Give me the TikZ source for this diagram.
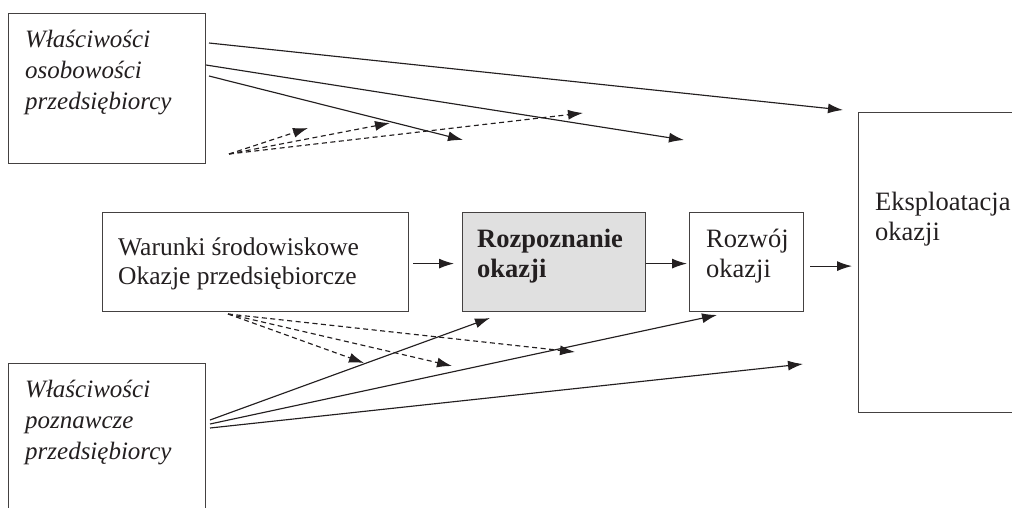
\documentclass[tikz,border=0pt]{standalone}
\usepackage{fontspec}
\setmainfont{Liberation Serif}
\usetikzlibrary{arrows.meta}
\definecolor{ink}{RGB}{35,31,32}
\definecolor{boxfill}{RGB}{224,224,224}
\begin{document}
\begin{tikzpicture}[x=1pt,y=-1pt,
  box/.style={draw=ink!85, line width=1.2pt, inner sep=0pt, anchor=north west},
  conn/.style={draw=ink, line width=1.15pt, -{Latex[length=15pt,width=10pt]}},
  dconn/.style={conn, dash pattern=on 5pt off 3.5pt},
  up/.style={font=\fontsize{26.5}{30}\selectfont, text=ink, inner sep=0pt, anchor=base west},
  it/.style={up, font=\fontsize{25}{31}\selectfont\itshape},
  bf/.style={up, font=\fontsize{26.5}{30}\selectfont\bfseries},
]
\useasboundingbox (0,0) rectangle (1012,507);
\clip (0,0) rectangle (1012,507);

% boxes
\node[box, minimum width=197pt, minimum height=150pt] (pers) at (8,13) {};
\node[box, minimum width=197pt, minimum height=170pt] (cogn) at (8,363) {};
\node[box, minimum width=306pt, minimum height=99pt] (env) at (102,212) {};
\node[box, fill=boxfill, minimum width=183pt, minimum height=99pt] (recog) at (462,212) {};
\node[box, minimum width=114pt, minimum height=99pt] (devel) at (689,212) {};
\node[box, minimum width=180pt, minimum height=300pt] (exploit) at (858,112) {};

% texts
\node[it] (tpers) at (25,47) {\vtop{\hbox{Właściwości}\hbox{osobowości}\hbox{przedsiębiorcy}}};
\node[it] (tcogn) at (25,397) {\vtop{\hbox{Właściwości}\hbox{poznawcze}\hbox{przedsiębiorcy}}};
\node[up, font=\fontsize{25.5}{29}\selectfont] (tenv) at (118,255) {\vtop{\hbox{Warunki środowiskowe}\hbox{Okazje przedsiębiorcze}}};
\node[bf] (trecog) at (477,247) {\vtop{\hbox{Rozpoznanie}\hbox{okazji}}};
\node[up] (tdevel) at (706,247) {\vtop{\hbox{Rozwój}\hbox{okazji}}};
\node[up] (texploit) at (875,210) {\vtop{\hbox{Eksploatacja}\hbox{okazji}}};

% main flow
\draw[conn] ([xshift=4pt,yshift=-1.5pt]env.east) -- ([xshift=-8pt,yshift=-1.5pt]recog.west);
\draw[conn] ([yshift=-1.5pt]recog.east) -- ([xshift=-2pt,yshift=-1.5pt]devel.west);
\draw[conn] ([xshift=6pt,yshift=-4pt]devel.east) -- ([xshift=-6pt,yshift=-4pt]devel.east -| exploit.west);

% influences of personality traits
\coordinate (p1) at (209,43);
\coordinate (p2) at (206,65);
\coordinate (p3) at (209,76);
\coordinate (p1e) at (843,110);
\coordinate (p2e) at (684,140);
\coordinate (p3e) at (463,140);
\draw[conn] (p1) -- (p1e);
\draw[conn] (p2) -- (p2e);
\draw[conn] (p3) -- (p3e);

\coordinate (pd) at (229,154);
\coordinate (pd1) at (308,128);
\coordinate (pd2) at (390,123);
\coordinate (pd3) at (583,113);
\draw[dconn] (pd) -- (pd1);
\draw[dconn] (pd) -- (pd2);
\draw[dconn] (pd) -- (pd3);

% influences of environmental conditions
\coordinate (ed) at (228,314);
\coordinate (ed1) at (364,363);
\coordinate (ed2) at (452,366);
\coordinate (ed3) at (575,352);
\draw[dconn] (ed) -- (ed1);
\draw[dconn] (ed) -- (ed2);
\draw[dconn] (ed) -- (ed3);

% influences of cognitive traits
\coordinate (c1) at (210,420);
\coordinate (c2) at (210,424);
\coordinate (c3) at (210,428);
\coordinate (c1e) at (490,318);
\coordinate (c2e) at (717,315);
\coordinate (c3e) at (803,364);
\draw[conn] (c1) -- (c1e);
\draw[conn] (c2) -- (c2e);
\draw[conn] (c3) -- (c3e);
\end{tikzpicture}
\end{document}
